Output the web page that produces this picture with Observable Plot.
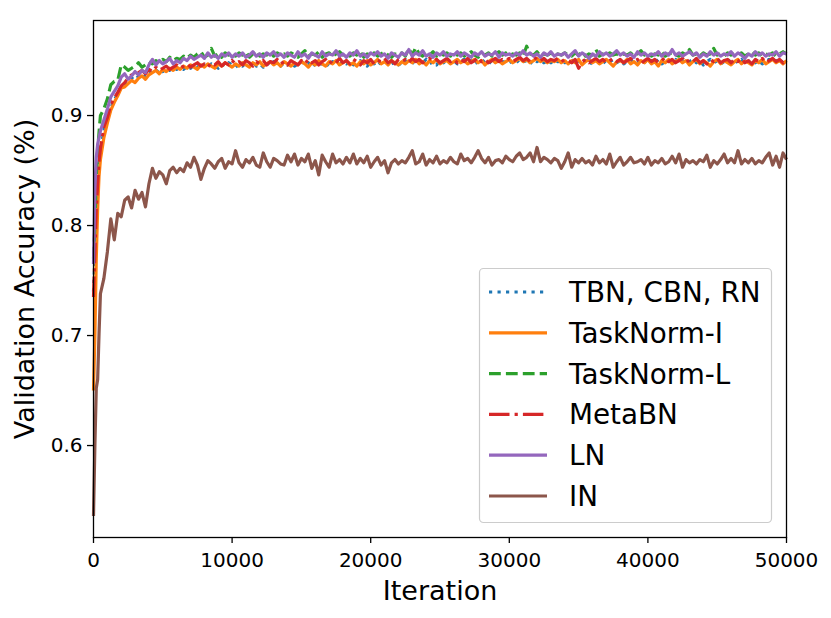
<!DOCTYPE html>
<html>
<head>
<meta charset="utf-8">
<script src="https://cdn.jsdelivr.net/npm/d3@7"></script>
<script src="https://cdn.jsdelivr.net/npm/@observablehq/plot@0.6"></script>
<style>
  body { margin: 0; background: #fff; }
  #chart { position: relative; width: 831px; height: 618px; }
</style>
</head>
<body>
<div id="chart"></div>
<script>
// ---------- data ----------
const seriesNames = ["TBN, CBN, RN", "TaskNorm-I", "TaskNorm-L", "MetaBN", "LN", "IN"];
const seriesColors = ["#1f77b4", "#ff7f0e", "#2ca02c", "#d62728", "#9467bd", "#8c564b"];
const seriesDash = ["3.2,5.3", null, "11.8,5.1", "20.5,5.1,3.2,5.1", null, null];

const iterEarly = [0, 100, 200, 300, 400, 500, 750, 1000, 1250, 1500, 1750, 2000];
const iterLate = d3.range(2250, 50001, 250);
const iterations = iterEarly.concat(iterLate);

const xTicks = [0, 10000, 20000, 30000, 40000, 50000];
const yTicks = [0.6, 0.7, 0.8, 0.9];
const xLabel = "Iteration";
const yLabel = "Validation Accuracy (%)";

const tbn = [
  0.740,0.770,0.810,0.840, 0.858,0.868,0.886,0.896, 0.907,0.914,0.920,0.926,
  0.928,0.931,0.934,0.932, 0.936,0.938,0.935,0.939, 0.941,0.939,0.942,0.940, 0.943,0.941,0.944,0.942,
  0.944,0.942,0.945,0.943, 0.946,0.944,0.942,0.946, 0.944,0.947,0.945,0.943, 0.947,0.945,0.948,0.946,
  0.944,0.947,0.945,0.948, 0.946,0.949,0.945,0.947, 0.944,0.948,0.946,0.949, 0.947,0.945,0.948,0.946,
  0.948,0.945,0.947,0.949, 0.946,0.948,0.944,0.947, 0.949,0.946,0.948,0.945, 0.949,0.947,0.946,0.949,
  0.947,0.949,0.946,0.948, 0.950,0.947,0.945,0.949, 0.947,0.950,0.946,0.948, 0.950,0.947,0.949,0.946,
  0.948,0.950,0.947,0.949, 0.946,0.950,0.948,0.951, 0.947,0.949,0.946,0.950, 0.948,0.951,0.948,0.950,
  0.947,0.949,0.951,0.948, 0.950,0.947,0.949,0.951, 0.948,0.950,0.947,0.949, 0.951,0.948,0.950,0.948,
  0.950,0.948,0.951,0.949, 0.950,0.947,0.951,0.949, 0.951,0.948,0.950,0.948, 0.951,0.949,0.950,0.948,
  0.949,0.951,0.947,0.950, 0.948,0.950,0.946,0.949, 0.951,0.948,0.950,0.947, 0.949,0.951,0.948,0.950,
  0.947,0.949,0.951,0.948, 0.950,0.947,0.949,0.946, 0.950,0.948,0.951,0.947, 0.949,0.950,0.948,0.951,
  0.948,0.950,0.947,0.949, 0.951,0.948,0.950,0.946, 0.949,0.951,0.948,0.950, 0.947,0.949,0.951,0.948,
  0.950,0.948,0.951,0.947, 0.949,0.951,0.948,0.950, 0.947,0.949,0.951,0.948, 0.950,0.947,0.949,0.951
];

const taskNormI = [
  0.650,0.700,0.770,0.815, 0.845,0.860,0.880,0.893, 0.905,0.912,0.918,0.925,
  0.926,0.929,0.932,0.930, 0.934,0.936,0.933,0.937, 0.939,0.941,0.938,0.942, 0.940,0.943,0.941,0.944,
  0.942,0.945,0.943,0.946, 0.944,0.942,0.946,0.944, 0.947,0.945,0.943,0.947, 0.945,0.948,0.946,0.944,
  0.947,0.945,0.948,0.946, 0.944,0.948,0.946,0.949, 0.945,0.947,0.949,0.946, 0.948,0.945,0.949,0.947,
  0.945,0.948,0.946,0.949, 0.947,0.944,0.948,0.946, 0.950,0.947,0.945,0.949, 0.947,0.950,0.946,0.948,
  0.950,0.946,0.948,0.945, 0.949,0.947,0.950,0.946, 0.948,0.951,0.947,0.949, 0.946,0.950,0.948,0.946,
  0.949,0.947,0.950,0.948, 0.951,0.947,0.949,0.946, 0.950,0.948,0.951,0.947, 0.949,0.950,0.947,0.949,
  0.951,0.948,0.950,0.947, 0.949,0.951,0.948,0.950, 0.946,0.949,0.951,0.948, 0.950,0.947,0.949,0.951,
  0.948,0.950,0.952,0.949, 0.951,0.948,0.950,0.952, 0.949,0.951,0.948,0.950, 0.949,0.951,0.948,0.950,
  0.947,0.950,0.948,0.951, 0.946,0.949,0.951,0.948, 0.950,0.947,0.949,0.951, 0.948,0.945,0.949,0.950,
  0.948,0.951,0.947,0.949, 0.946,0.950,0.948,0.951, 0.947,0.949,0.945,0.950, 0.948,0.951,0.947,0.949,
  0.951,0.948,0.950,0.946, 0.949,0.951,0.947,0.950, 0.948,0.945,0.949,0.951, 0.947,0.950,0.948,0.946,
  0.949,0.951,0.947,0.950, 0.948,0.946,0.950,0.948, 0.951,0.947,0.949,0.951, 0.948,0.950,0.947,0.950
];

const taskNormL = [
  0.770,0.800,0.845,0.868, 0.885,0.900,0.906,0.915, 0.928,0.931,0.932,0.946,
  0.944,0.941,0.943,0.945, 0.948,0.944,0.946,0.949, 0.947,0.950,0.948,0.951, 0.949,0.953,0.950,0.952,
  0.951,0.954,0.952,0.955, 0.953,0.956,0.958,0.953, 0.955,0.961,0.954,0.956, 0.953,0.957,0.955,0.956,
  0.954,0.957,0.955,0.958, 0.953,0.956,0.959,0.954, 0.956,0.955,0.958,0.954, 0.957,0.955,0.956,0.954,
  0.957,0.955,0.953,0.956, 0.959,0.954,0.956,0.955, 0.958,0.953,0.956,0.957, 0.954,0.956,0.958,0.955,
  0.956,0.954,0.957,0.955, 0.958,0.953,0.956,0.955, 0.957,0.954,0.956,0.958, 0.955,0.953,0.956,0.955,
  0.957,0.954,0.961,0.955, 0.962,0.956,0.954,0.957, 0.955,0.958,0.954,0.956, 0.955,0.957,0.954,0.956,
  0.955,0.957,0.954,0.956, 0.958,0.955,0.953,0.956, 0.955,0.957,0.954,0.956, 0.958,0.955,0.957,0.954,
  0.956,0.955,0.957,0.954, 0.963,0.956,0.955,0.958, 0.954,0.956,0.955,0.957, 0.954,0.956,0.955,0.957,
  0.955,0.954,0.957,0.955, 0.958,0.954,0.956,0.955, 0.960,0.954,0.956,0.955, 0.957,0.955,0.956,0.954,
  0.956,0.955,0.957,0.954, 0.956,0.959,0.955,0.957, 0.954,0.956,0.955,0.958, 0.954,0.956,0.957,0.955,
  0.954,0.957,0.955,0.960, 0.955,0.956,0.954,0.957, 0.955,0.956,0.961,0.955, 0.956,0.954,0.957,0.955,
  0.956,0.955,0.957,0.954, 0.956,0.958,0.955,0.957, 0.954,0.956,0.955,0.957, 0.954,0.956,0.958,0.956
];

const metaBN = [
  0.735,0.775,0.815,0.838, 0.858,0.870,0.890,0.898, 0.910,0.916,0.921,0.927,
  0.930,0.934,0.937,0.935, 0.939,0.941,0.938,0.942, 0.940,0.944,0.941,0.943, 0.945,0.942,0.944,0.946,
  0.943,0.945,0.947,0.944, 0.946,0.948,0.945,0.947, 0.944,0.948,0.946,0.949, 0.945,0.948,0.946,0.950,
  0.947,0.949,0.946,0.950, 0.948,0.945,0.949,0.947, 0.950,0.946,0.949,0.948, 0.951,0.947,0.949,0.946,
  0.950,0.948,0.946,0.950, 0.947,0.951,0.948,0.950, 0.946,0.949,0.951,0.947, 0.950,0.948,0.952,0.948,
  0.950,0.947,0.951,0.949, 0.946,0.950,0.948,0.951, 0.947,0.950,0.949,0.952, 0.948,0.950,0.947,0.951,
  0.949,0.951,0.948,0.952, 0.949,0.951,0.948,0.950, 0.952,0.949,0.951,0.948, 0.950,0.952,0.949,0.951,
  0.948,0.951,0.949,0.952, 0.948,0.950,0.953,0.949, 0.951,0.948,0.950,0.952, 0.949,0.951,0.950,0.952,
  0.949,0.951,0.953,0.950, 0.952,0.949,0.951,0.953, 0.950,0.952,0.949,0.951, 0.950,0.952,0.949,0.951,
  0.950,0.948,0.951,0.943, 0.949,0.951,0.948,0.950, 0.952,0.949,0.951,0.948, 0.950,0.952,0.949,0.951,
  0.948,0.950,0.952,0.949, 0.951,0.947,0.950,0.952, 0.949,0.951,0.948,0.950, 0.953,0.949,0.951,0.948,
  0.950,0.952,0.948,0.951, 0.949,0.952,0.948,0.950, 0.947,0.951,0.949,0.952, 0.948,0.950,0.951,0.948,
  0.951,0.949,0.952,0.948, 0.950,0.947,0.951,0.949, 0.952,0.948,0.950,0.952, 0.949,0.951,0.948,0.951
];

const ln = [
  0.765,0.833,0.862,0.874, 0.880,0.886,0.896,0.906, 0.917,0.922,0.927,0.935,
  0.938,0.933,0.936,0.940, 0.937,0.941,0.939,0.946, 0.951,0.946,0.950,0.947, 0.949,0.952,0.947,0.950,
  0.948,0.952,0.950,0.954, 0.951,0.953,0.955,0.952, 0.957,0.953,0.955,0.952, 0.956,0.954,0.957,0.953,
  0.956,0.954,0.957,0.953, 0.955,0.958,0.954,0.956, 0.953,0.957,0.955,0.958, 0.954,0.956,0.953,0.957,
  0.955,0.953,0.958,0.954, 0.956,0.952,0.957,0.955, 0.953,0.958,0.954,0.956, 0.955,0.959,0.954,0.956,
  0.953,0.957,0.955,0.959, 0.954,0.956,0.953,0.957, 0.955,0.958,0.954,0.956, 0.952,0.957,0.955,0.953,
  0.957,0.955,0.960,0.954, 0.957,0.955,0.959,0.954, 0.956,0.953,0.957,0.955, 0.958,0.954,0.956,0.955,
  0.958,0.954,0.957,0.955, 0.953,0.957,0.955,0.958, 0.954,0.956,0.955,0.958, 0.953,0.957,0.955,0.956,
  0.954,0.957,0.955,0.959, 0.955,0.957,0.954,0.956, 0.953,0.957,0.955,0.958, 0.954,0.956,0.955,0.957,
  0.953,0.956,0.959,0.954, 0.957,0.955,0.952,0.956, 0.954,0.958,0.955,0.957, 0.954,0.956,0.959,0.955,
  0.957,0.954,0.956,0.953, 0.958,0.955,0.957,0.954, 0.956,0.955,0.958,0.954, 0.957,0.955,0.960,0.955,
  0.957,0.954,0.956,0.958, 0.955,0.957,0.953,0.956, 0.954,0.958,0.955,0.957, 0.954,0.956,0.955,0.958,
  0.954,0.957,0.955,0.952, 0.956,0.954,0.958,0.955, 0.957,0.954,0.956,0.955, 0.958,0.954,0.957,0.956
];

const inorm = [
  0.536,0.600,0.652,0.660, 0.702,0.738,0.752,0.776, 0.806,0.787,0.811,0.808,
  0.823,0.826,0.816,0.832, 0.824,0.830,0.817,0.838, 0.852,0.843,0.849,0.846, 0.838,0.850,0.853,0.848,
  0.852,0.849,0.857,0.853, 0.862,0.855,0.842,0.852, 0.859,0.856,0.852,0.858, 0.861,0.852,0.858,0.856,
  0.868,0.857,0.853,0.860, 0.857,0.862,0.855,0.853, 0.866,0.858,0.853,0.861, 0.859,0.856,0.855,0.864,
  0.858,0.865,0.855,0.861, 0.858,0.865,0.852,0.859, 0.846,0.864,0.858,0.853, 0.865,0.857,0.860,0.856,
  0.862,0.857,0.865,0.856, 0.861,0.857,0.863,0.853, 0.858,0.862,0.855,0.859, 0.848,0.857,0.860,0.856,
  0.859,0.857,0.862,0.868, 0.856,0.858,0.865,0.855, 0.860,0.857,0.863,0.856, 0.859,0.857,0.862,0.858,
  0.856,0.865,0.859,0.861, 0.857,0.862,0.868,0.861, 0.857,0.862,0.855,0.859, 0.860,0.857,0.863,0.860,
  0.858,0.863,0.866,0.860, 0.862,0.866,0.858,0.871, 0.858,0.862,0.860,0.857, 0.861,0.859,0.852,0.858,
  0.866,0.853,0.860,0.857, 0.861,0.857,0.859,0.855, 0.863,0.857,0.860,0.856, 0.865,0.853,0.858,0.862,
  0.855,0.858,0.862,0.857, 0.858,0.860,0.856,0.862, 0.855,0.859,0.857,0.861, 0.856,0.858,0.863,0.857,
  0.865,0.853,0.860,0.857, 0.859,0.856,0.860,0.858, 0.864,0.853,0.859,0.856, 0.860,0.865,0.857,0.861,
  0.857,0.868,0.856,0.860, 0.857,0.861,0.856,0.859, 0.857,0.862,0.866,0.855, 0.863,0.853,0.866,0.860
];

const seriesValues = [tbn, taskNormI, taskNormL, metaBN, ln, inorm];

// ---------- build table ----------
const rows = [];
seriesValues.forEach((vals, s) => {
  if (vals.length !== iterations.length) console.warn(seriesNames[s], vals.length, iterations.length);
  const n = Math.min(vals.length, iterations.length);
  for (let i = 0; i < n; i++) rows.push({series: seriesNames[s], iter: iterations[i], acc: vals[i]});
});

const FONT = "DejaVu Sans";
const LW = 3.2;

const lineMarks = seriesNames.map((name, s) =>
  Plot.line(rows.filter(r => r.series === name), {
    x: "iter", y: "acc",
    stroke: seriesColors[s],
    strokeWidth: LW,
    strokeDasharray: seriesDash[s] || undefined,
    strokeLinejoin: "round",
    strokeLinecap: "butt"
  })
);

const chart = Plot.plot({
  width: 831,
  height: 618,
  marginLeft: 93,
  marginRight: 45,
  marginTop: 20,
  marginBottom: 81,
  style: {fontFamily: FONT, fontSize: "20px", color: "black", background: "white", overflow: "visible"},
  x: {domain: [0, 50000], label: null},
  y: {domain: [0.5164, 0.9864], label: null},
  marks: [
    ...lineMarks,
    Plot.frame({stroke: "black", strokeWidth: 1.3}),
    Plot.axisX({ticks: xTicks, tickFormat: d3.format("d"), tickSize: 6, tickPadding: 9, strokeWidth: 1.3, fontSize: 20, label: null}),
    Plot.axisY({ticks: yTicks, tickFormat: d3.format(".1f"), tickSize: 6, tickPadding: 5, strokeWidth: 1.3, fontSize: 20, label: null}),
    Plot.text([xLabel], {text: d => d, frameAnchor: "bottom", textAnchor: "middle", lineAnchor: "bottom", dy: 62, fontSize: 27, fill: "black"}),
    Plot.text([yLabel], {text: d => d, frameAnchor: "left", textAnchor: "middle", lineAnchor: "bottom", rotate: -90, dx: -59.5, fontSize: 27, fill: "black"})
  ]
});

document.getElementById("chart").appendChild(chart);

// ---------- legend (inside the axes, lower right) ----------
const svg = d3.select(chart);
const lg = svg.append("g").attr("font-family", FONT).attr("font-size", 27.8).attr("text-anchor", "start");
lg.append("rect")
  .attr("x", 479.5).attr("y", 268.5).attr("width", 292).attr("height", 254)
  .attr("rx", 4).attr("fill", "white").attr("fill-opacity", 0.8)
  .attr("stroke", "#cccccc").attr("stroke-width", 1.2);
seriesNames.forEach((name, s) => {
  const cy = 292 + s * 40.8;
  lg.append("line")
    .attr("x1", 489).attr("x2", 547).attr("y1", cy).attr("y2", cy)
    .attr("stroke", seriesColors[s]).attr("stroke-width", LW)
    .attr("stroke-dasharray", seriesDash[s]);
  lg.append("text").attr("x", 569).attr("y", cy + 10)
    .attr("fill", "black").attr("text-anchor", "start").text(name);
});
</script>
</body>
</html>
